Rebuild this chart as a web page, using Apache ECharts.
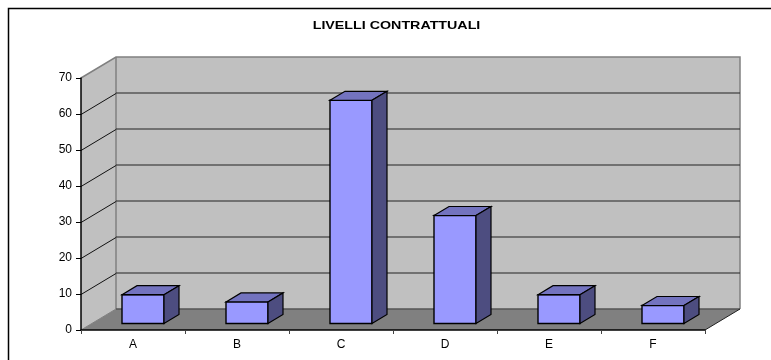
<!DOCTYPE html>
<html>
<head>
<meta charset="utf-8">
<style>
  html, body { margin: 0; padding: 0; background: #fff; }
  #chart { width: 771px; height: 360px; }
</style>
<script src="https://cdn.jsdelivr.net/npm/echarts@6/dist/echarts.min.js"></script>
</head>
<body>
<div id="chart"></div>
<script>
var chartTitle = 'LIVELLI CONTRATTUALI';
var categories = ['A', 'B', 'C', 'D', 'E', 'F'];
var livelli = [8, 6, 62, 30, 8, 5];
var yTicks = [10, 20, 30, 40, 50, 60, 70];

var chart = echarts.init(document.getElementById('chart'));

// depth of the fake 3d box, in pixels
var wallDx = 35, wallDy = -21;
var barDx = 15, barDy = -9;
var barShiftX = 10, barShiftY = -6.5;
var barWidth = 42;

function poly(points, fill, stroke, lineWidth) {
  return {
    type: 'polygon',
    shape: { points: points },
    style: { fill: fill, stroke: stroke || null, lineWidth: lineWidth || 0, lineJoin: 'miter' }
  };
}

function line(points, color, width) {
  return {
    type: 'polyline',
    shape: { points: points },
    style: { fill: null, stroke: color, lineWidth: width }
  };
}

// back wall, side wall and floor
function renderRoom(params, api) {
  var cs = params.coordSys;
  var x0 = cs.x, x1 = cs.x + cs.width;
  var y0 = cs.y + cs.height, yT = cs.y;
  return {
    type: 'group',
    children: [
      poly([[x0 + wallDx, yT + wallDy], [x1 + wallDx, yT + wallDy], [x1 + wallDx, y0 + wallDy], [x0 + wallDx, y0 + wallDy]], '#c0c0c0'),
      poly([[x0, yT], [x0 + wallDx, yT + wallDy], [x0 + wallDx, y0 + wallDy], [x0, y0]], '#c0c0c0'),
      poly([[x0, y0], [x0 + wallDx, y0 + wallDy], [x1 + wallDx, y0 + wallDy], [x1, y0]], '#808080'),
      line([[x0, yT], [x0 + wallDx, yT + wallDy], [x1 + wallDx, yT + wallDy], [x1 + wallDx, y0 + wallDy]], '#808080', 1.5),
      line([[x0 + wallDx, yT + wallDy], [x0 + wallDx, y0 + wallDy]], '#808080', 1.5),
      line([[x0, y0], [x0 + wallDx, y0 + wallDy]], '#808080', 1),
      line([[x0 + wallDx, y0 + wallDy], [x1 + wallDx, y0 + wallDy]], '#555555', 1.5),
      line([[x1, y0], [x1 + wallDx, y0 + wallDy]], '#222222', 1)
    ]
  };
}

// one gridline running along the side wall and the back wall
function renderGridline(params, api) {
  var cs = params.coordSys;
  var y = Math.floor(api.coord([0, api.value(0)])[1]) + 0.5;
  var x0 = cs.x, x1 = cs.x + cs.width;
  var lastTick = api.value(0) === yTicks[yTicks.length - 1];
  if (lastTick) return null;
  return {
    type: 'group',
    children: [
      line([[x0, y], [x0 + wallDx, y + wallDy]], '#111111', 1),
      line([[x0 + wallDx, y + wallDy - 0.5], [x1 + wallDx, y + wallDy - 0.5]], '#222222', 1.2)
    ]
  };
}

function renderBar(params, api) {
  var top = api.coord([api.value(0), api.value(1)]);
  var base = api.coord([api.value(0), 0]);
  var left = top[0] + barShiftX - barWidth / 2;
  var right = left + barWidth;
  var yTop = top[1] + barShiftY;
  var yBase = base[1] + barShiftY;
  var edge = '#000000';
  return {
    type: 'group',
    children: [
      poly([[left, yTop], [right, yTop], [right, yBase], [left, yBase]], '#9999ff', edge, 1.4),
      poly([[left, yTop], [left + barDx, yTop + barDy], [right + barDx, yTop + barDy], [right, yTop]], '#7373bf', edge, 1.2),
      poly([[right, yTop], [right + barDx, yTop + barDy], [right + barDx, yBase + barDy], [right, yBase]], '#4d4d80', edge, 1.2)
    ]
  };
}

var option = {
  animation: false,
  backgroundColor: '#ffffff',
  graphic: [
    // frame of the pasted picture, only top and left show
    { type: 'polyline', shape: { points: [[8.5, 360], [8.5, 8.5], [771, 8.5]] }, style: { fill: null, stroke: '#000000', lineWidth: 1.5 }, silent: true },
    // title is stretched sideways in the original, so graphic text instead of title
    {
      type: 'text',
      x: 396.5,
      y: 26,
      scaleX: 1.24,
      silent: true,
      style: {
        text: chartTitle,
        fill: '#000000',
        font: 'bold 11.5px "Liberation Sans"',
        textAlign: 'center',
        textVerticalAlign: 'middle'
      }
    }
  ],
  grid: { left: 81, right: 66, top: 78, bottom: 30 },
  xAxis: {
    type: 'category',
    data: categories,
    boundaryGap: true,
    axisLine: { show: true, lineStyle: { color: '#000000', width: 1.5 } },
    axisTick: { show: true, alignWithLabel: false, length: 4, lineStyle: { color: '#444444', width: 1 } },
    axisLabel: { color: '#000000', fontFamily: 'Liberation Sans', fontSize: 12, margin: 9 },
    splitLine: { show: false },
    z: 5
  },
  yAxis: {
    type: 'value',
    min: 0,
    max: 70,
    interval: 10,
    axisLine: { show: true, lineStyle: { color: '#000000', width: 1.5 } },
    axisTick: { show: true, length: 5, lineStyle: { color: '#000000', width: 1 } },
    axisLabel: { color: '#000000', fontFamily: 'Liberation Sans', fontSize: 12, margin: 9 },
    splitLine: { show: false },
    z: 5
  },
  series: [
    { type: 'custom', name: 'room', silent: true, clip: false, z: 1, renderItem: renderRoom, data: [0] },
    { type: 'custom', name: 'griglia', silent: true, clip: false, z: 2, renderItem: renderGridline, encode: { y: 0 }, data: yTicks },
    {
      type: 'custom',
      name: 'Livelli',
      clip: false,
      z: 3,
      renderItem: renderBar,
      encode: { x: 0, y: 1 },
      data: categories.map(function (c, i) { return [i, livelli[i]]; })
    }
  ]
};

chart.setOption(option);
window.addEventListener('resize', function () { chart.resize(); });
</script>
</body>
</html>
